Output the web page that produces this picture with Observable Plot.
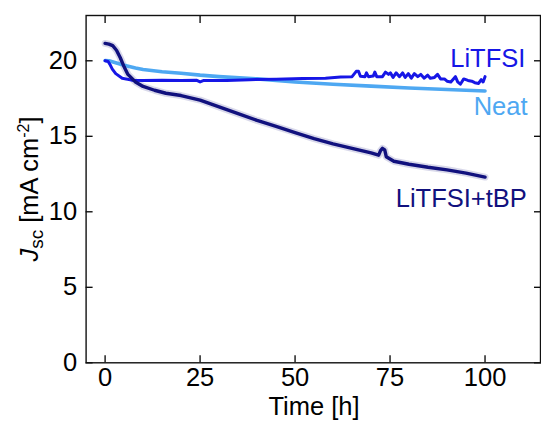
<!DOCTYPE html>
<html><head><meta charset="utf-8">
<script src="https://cdn.jsdelivr.net/npm/d3@7"></script>
<script src="https://cdn.jsdelivr.net/npm/@observablehq/plot@0.6"></script>
<style>body{margin:0;background:#fff;} svg{font-family:"Liberation Sans",Arial,sans-serif;}</style>
</head><body><div id="chart"></div>
<script>
// ---- data ----
const neatTime = [0, 1, 3, 5, 8, 10, 15, 20, 25, 30, 40, 50, 60, 70, 80, 90, 100];
const neatJsc  = [20.02, 20.0, 19.85, 19.7, 19.52, 19.42, 19.28, 19.18, 19.05, 18.95, 18.8, 18.6, 18.45, 18.32, 18.2, 18.1, 18.0];

const litfsiTime = [0, 0.8, 1.4, 1.9, 2.8, 4.5, 7, 10, 15, 20, 24, 25, 26, 32, 38, 45, 52, 58, 62, 65,
  66.1, 66.7, 67.2, 68.4, 68.8, 69.3, 70.6, 71, 71.5, 73, 73.8, 74.6, 75.1, 75.8, 76.6, 77.5, 78.3, 79, 79.8,
  80.6, 81.4, 82.3, 83.1, 84, 84.9, 85.6, 86.7, 87.5, 88.3, 89.3, 90, 91, 92.2, 92.8, 93.5, 94.4, 95.5, 96.5,
  97.3, 98.3, 99, 99.5, 100];
const litfsiJsc = [20.0, 19.95, 19.7, 19.45, 19.15, 18.85, 18.72, 18.7, 18.72, 18.7, 18.72, 18.6, 18.7, 18.7, 18.75, 18.78, 18.82, 18.85, 18.92, 18.95,
  19.3, 19.3, 18.98, 18.95, 19.2, 18.95, 19.0, 19.25, 18.95, 18.95, 19.25, 19.1, 19.2, 18.9, 19.2, 18.95, 19.2, 18.9, 19.15,
  18.85, 19.15, 18.95, 19.1, 18.85, 19.05, 18.85, 18.9, 19.1, 18.8, 18.8, 18.65, 18.6, 18.95, 18.6, 18.45, 18.8, 18.7, 18.65,
  18.55, 18.5, 18.75, 18.6, 18.95];

const tbpTime = [0, 1, 2, 3, 4, 5, 6, 8, 10, 13, 16, 20, 25, 30, 35, 40, 45, 50, 55, 60, 65, 70, 72, 72.5, 73, 73.6, 74, 76, 80, 85, 90, 95, 100];
const tbpJsc  = [21.15, 21.1, 21.0, 20.7, 20.2, 19.6, 19.1, 18.6, 18.3, 18.05, 17.85, 17.7, 17.4, 16.95, 16.5, 16.05, 15.65, 15.25, 14.85, 14.5, 14.2, 13.9, 13.75, 14.05, 14.2, 14.1, 13.65, 13.35, 13.15, 12.95, 12.78, 12.56, 12.3];

const seriesNames  = ["LiTFSI", "Neat", "LiTFSI+tBP"];
const seriesColors = ["#1616e6", "#4ea8f2", "#11117e"];
const labelTime = [110.6, 111.2, 111.0];
const labelJsc  = [19.58, 16.44, 10.3];

const xTicks = [0, 25, 50, 75, 100];
const yTicks = [0, 5, 10, 15, 20];

// ---- tables ----
const rows = (time, jsc, name) => time.map((t, i) => ({t, j: jsc[i], series: name}));
const litfsiRows = rows(litfsiTime, litfsiJsc, "LiTFSI");
const neatRows = rows(neatTime, neatJsc, "Neat");
const tbpRows = rows(tbpTime, tbpJsc, "LiTFSI+tBP");
const labels = seriesNames.map((name, i) => ({name, t: labelTime[i], j: labelJsc[i]}));

const color = {domain: seriesNames, range: seriesColors};
const FS = 25.5;

const chart = Plot.plot({
  width: 541, height: 423,
  marginLeft: 85.6, marginRight: 1, marginTop: 15, marginBottom: 60.7,
  style: {fontFamily: "Liberation Sans, Arial, sans-serif", fontSize: FS + "px", color: "#000", background: "#fff"},
  x: {domain: [-5, 114.6]},
  y: {domain: [0, 23]},
  color,
  marks: [
    Plot.axisX(xTicks, {anchor: "bottom", tickSize: 0, tickPadding: 5, label: null}),
    Plot.axisX(xTicks, {anchor: "bottom", tickSize: -7, tickFormat: () => "", label: null, strokeWidth: 1.3}),
    Plot.axisX(xTicks, {anchor: "top", tickSize: -7, tickFormat: () => "", label: null, strokeWidth: 1.3}),
    Plot.axisY(yTicks, {anchor: "left", tickSize: 0, tickPadding: 9, label: null}),
    Plot.axisY(yTicks, {anchor: "left", tickSize: -7, tickFormat: () => "", label: null, strokeWidth: 1.3}),
    Plot.axisY(yTicks, {anchor: "right", tickSize: -7, tickFormat: () => "", label: null, strokeWidth: 1.3}),
    Plot.frame({stroke: "#111", strokeWidth: 1.4}),
    Plot.line(tbpRows, {x: "t", y: "j", stroke: "series", strokeWidth: 7, strokeOpacity: 0.16}),
    Plot.line(neatRows, {x: "t", y: "j", stroke: "series", strokeWidth: 3.6}),
    Plot.line(litfsiRows, {x: "t", y: "j", stroke: "series", strokeWidth: 3}),
    Plot.line(tbpRows, {x: "t", y: "j", stroke: "series", strokeWidth: 3.4}),
    Plot.text(labels, {x: "t", y: "j", text: "name", fill: "name", textAnchor: "end", lineAnchor: "bottom", fontSize: FS})
  ]
});

document.getElementById("chart").appendChild(chart);

const svg = d3.select(chart);
const yl = svg.append("text")
  .attr("transform", "translate(38,189) rotate(-90)")
  .attr("text-anchor", "middle")
  .attr("font-size", FS)
  .attr("fill", "#000");
yl.append("tspan").attr("font-style", "italic").text("J");
yl.append("tspan").attr("font-size", 19).attr("dy", 5).text("sc");
yl.append("tspan").attr("dy", -5).text(" [mA cm");
yl.append("tspan").attr("font-size", 16).attr("dy", -9).text("-2");
yl.append("tspan").attr("dy", 9).text("]");

svg.append("text")
  .attr("x", 314)
  .attr("y", 415)
  .attr("text-anchor", "middle")
  .attr("font-size", FS)
  .attr("fill", "#000")
  .text("Time [h]");
</script>
</body></html>
